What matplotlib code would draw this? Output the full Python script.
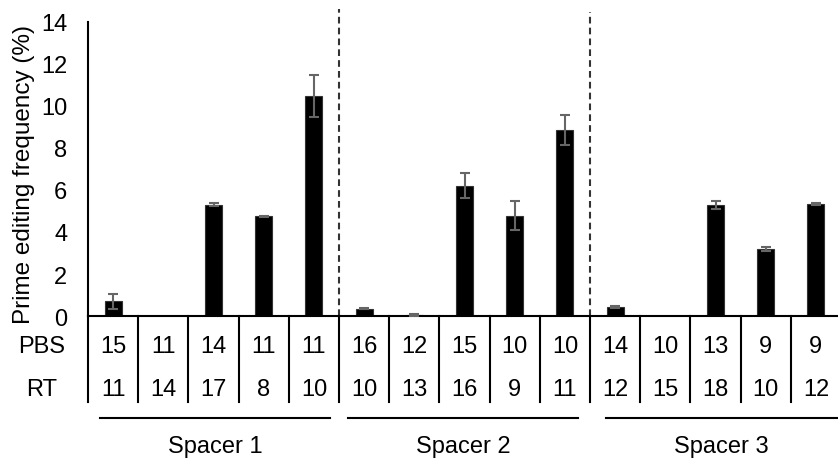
import matplotlib
matplotlib.use("Agg")
import matplotlib.pyplot as plt
import numpy as np

plt.rcParams['font.family'] = ['Liberation Sans', 'DejaVu Sans']

# Prime editing frequency (%) per pegRNA design
spacers = ["Spacer 1", "Spacer 2", "Spacer 3"]
pbs = [15, 11, 14, 11, 11, 16, 12, 15, 10, 10, 14, 10, 13, 9, 9]
rt = [11, 14, 17, 8, 10, 10, 13, 16, 9, 11, 12, 15, 18, 10, 12]
freq = [0.7, 0.0, 5.3, 4.75, 10.5,
        0.35, 0.05, 6.2, 4.78, 8.86,
        0.43, 0.0, 5.3, 3.19, 5.35]
err = [0.36, 0.0, 0.07, 0.02, 1.0,
       0.02, 0.04, 0.6, 0.7, 0.72,
       0.05, 0.0, 0.2, 0.1, 0.05]
yticks = [0, 2, 4, 6, 8, 10, 12, 14]

FS = 17
W, H = 838, 464
fig = plt.figure(figsize=(W / 100, H / 100), dpi=100)
x0, x1 = 88, 841
ybase, ytop = 317, 23
ax = fig.add_axes([x0 / W, (H - ybase) / H, (x1 - x0) / W, (ybase - ytop) / H])

n = len(freq)
x = np.arange(n)
ax.bar(x, freq, width=0.34, color='black', edgecolor='#333333', linewidth=0.8, zorder=2)
nz = [i for i in range(n) if err[i] > 0]
ax.errorbar([x[i] for i in nz], [freq[i] for i in nz], yerr=[err[i] for i in nz],
            fmt='none', ecolor='#666666', elinewidth=1.5, capsize=3.5, capthick=1.5, zorder=3)

ax.set_xlim(-0.5, n - 0.5)
ax.set_ylim(0, 14)
ax.set_yticks(yticks)
ax.set_xticks([])
ax.tick_params(axis='y', length=0, pad=15, labelsize=FS)
for s in ['top', 'right']:
    ax.spines[s].set_visible(False)
ax.spines['left'].set_linewidth(1.5)
ax.spines['bottom'].set_linewidth(1.5)
ax.set_ylabel("Prime editing frequency (%)", fontsize=17.5)
ax.yaxis.set_label_coords(-53 / (x1 - x0), 0.485)

upp = 14 / (ybase - ytop)  # data units per pixel


def ypx(py):
    return (ybase - py) * upp


# spacer separators
ax.plot([4.5, 4.5], [0, ypx(10)], ls=(0, (3.2, 2.0)), color='#333333', lw=1.5, clip_on=False)
ax.plot([9.5, 9.5], [0, ypx(13)], ls=(0, (3.2, 2.0)), color='#333333', lw=1.5, clip_on=False)

# table grid below the axis
for b in np.arange(-0.5, n, 1.0):
    ax.plot([b, b], [0, ypx(403)], color='black', lw=1.5, clip_on=False)

for i in range(n):
    ax.text(x[i], ypx(347), str(pbs[i]), ha='center', va='center', fontsize=FS, clip_on=False)
    ax.text(x[i], ypx(390), str(rt[i]), ha='center', va='center', fontsize=FS, clip_on=False)
ax.text(-0.5 - 46 / 50.2, ypx(347), "PBS", ha='center', va='center', fontsize=FS)
ax.text(-0.5 - 46 / 50.2, ypx(390), "RT", ha='center', va='center', fontsize=FS)

# spacer group brackets
px_per_cat = (x1 - x0) / n
spans = [(100, 330), (348, 578), (606, 837)]
for name, (a, b) in zip(spacers, spans):
    xa = (a - x0) / px_per_cat - 0.5
    xb = (b - x0) / px_per_cat - 0.5
    ax.plot([xa, xb], [ypx(419), ypx(419)], color='black', lw=1.5, clip_on=False)
    ax.text((xa + xb) / 2, ypx(447), name, ha='center', va='center', fontsize=FS)

fig.savefig("out.png", dpi=100)
